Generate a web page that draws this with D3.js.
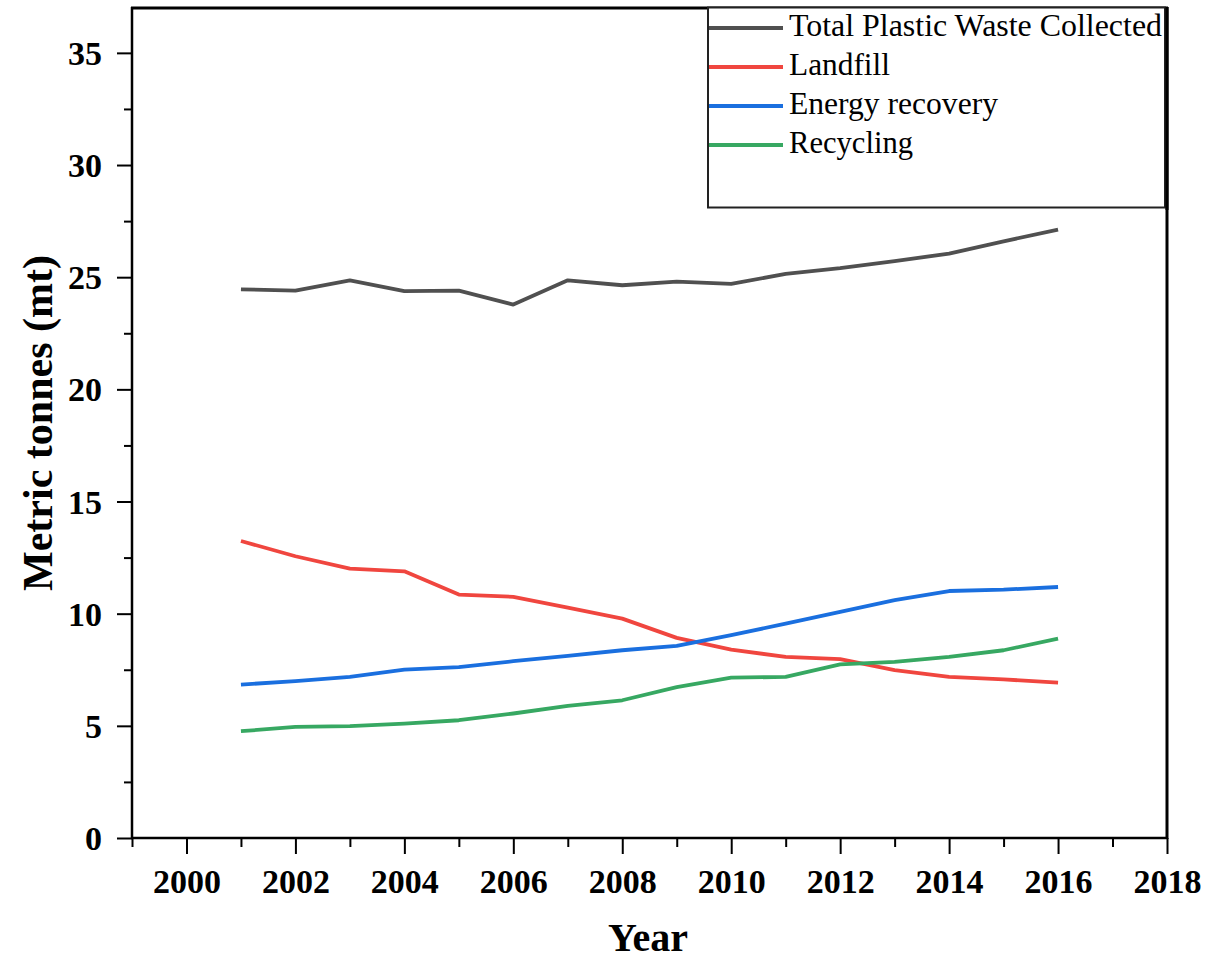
<!DOCTYPE html>
<html>
<head>
<meta charset="utf-8">
<script src="https://cdn.jsdelivr.net/npm/d3@7"></script>
<style>
  html, body { margin: 0; padding: 0; background: #fff; }
  svg { display: block; }
  text { font-family: "Liberation Serif", "Times New Roman", serif; }
</style>
</head>
<body>
<svg id="chart" width="1221" height="963"></svg>
<script>
const years = [2001,2002,2003,2004,2005,2006,2007,2008,2009,2010,2011,2012,2013,2014,2015,2016];
const totalCollected = [24.46,24.4,24.86,24.38,24.4,23.78,24.86,24.64,24.8,24.7,25.15,25.4,25.72,26.05,26.6,27.12];
const landfill = [13.24,12.56,12.01,11.89,10.85,10.75,10.27,9.78,8.92,8.4,8.07,7.97,7.48,7.18,7.07,6.93];
const energyRecovery = [6.84,6.99,7.18,7.51,7.62,7.88,8.12,8.37,8.56,9.04,9.56,10.08,10.6,11.01,11.07,11.19];
const recycling = [4.76,4.95,4.99,5.1,5.25,5.55,5.89,6.14,6.73,7.15,7.18,7.74,7.85,8.07,8.37,8.89];

const seriesNames = ["Total Plastic Waste Collected","Landfill","Energy recovery","Recycling"];
const seriesColors = ["#505050","#f0463f","#1a6fdf","#37a862"];
const seriesValues = [totalCollected, landfill, energyRecovery, recycling];

const xMajorTicks = [2000,2002,2004,2006,2008,2010,2012,2014,2016,2018];
const xMinorTicks = [1999,2001,2003,2005,2007,2009,2011,2013,2015,2017];
const yMajorTicks = [0,5,10,15,20,25,30,35];
const yMinorTicks = [2.5,7.5,12.5,17.5,22.5,27.5,32.5];

const svg = d3.select("#chart");
const L = 132, R = 1167, T = 8, B = 838;
const x = d3.scaleLinear().domain([1999, 2018]).range([L, R]);
const y = d3.scaleLinear().domain([0, 37]).range([B, T]);

const xAxis = svg.append("g").attr("transform", `translate(0,${B})`)
  .call(d3.axisBottom(x).tickValues(xMajorTicks).tickFormat(d3.format("d")).tickSize(16).tickSizeOuter(0));
const xAxisMinor = svg.append("g").attr("transform", `translate(0,${B})`)
  .call(d3.axisBottom(x).tickValues(xMinorTicks).tickFormat("").tickSize(9).tickSizeOuter(0));
const yAxis = svg.append("g").attr("transform", `translate(${L},0)`)
  .call(d3.axisLeft(y).tickValues(yMajorTicks).tickFormat(d3.format("d")).tickSize(15).tickSizeOuter(0));
const yAxisMinor = svg.append("g").attr("transform", `translate(${L},0)`)
  .call(d3.axisLeft(y).tickValues(yMinorTicks).tickFormat("").tickSize(8).tickSizeOuter(0));

[xAxis, xAxisMinor, yAxis, yAxisMinor].forEach(g => {
  g.selectAll(".domain").remove();
  g.selectAll(".tick line").attr("stroke", "#000").attr("stroke-width", 2);
});
xAxis.selectAll(".tick text")
  .attr("font-family", "Liberation Serif, Times New Roman, serif")
  .attr("font-size", 34).attr("font-weight", "bold").attr("fill", "#000")
  .attr("dy", null).attr("y", 55);
yAxis.selectAll(".tick text")
  .attr("font-family", "Liberation Serif, Times New Roman, serif")
  .attr("font-size", 34).attr("font-weight", "bold").attr("fill", "#000")
  .attr("x", -30).attr("dy", "0.34em");

svg.append("line").attr("x1", L).attr("x2", L).attr("y1", T - 1).attr("y2", B + 1).attr("stroke", "#000").attr("stroke-width", 2.5);
svg.append("line").attr("x1", L - 1).attr("x2", R + 1).attr("y1", B).attr("y2", B).attr("stroke", "#000").attr("stroke-width", 2.5);
svg.append("line").attr("x1", L - 1).attr("x2", R + 1).attr("y1", T).attr("y2", T).attr("stroke", "#000").attr("stroke-width", 3);
svg.append("line").attr("x1", R).attr("x2", R).attr("y1", T - 1).attr("y2", B + 1).attr("stroke", "#000").attr("stroke-width", 3);

const line = d3.line().x((d, i) => x(years[i])).y(d => y(d)).curve(d3.curveLinear);
seriesValues.forEach((vals, k) => {
  svg.append("path").datum(vals)
    .attr("d", line)
    .attr("fill", "none")
    .attr("stroke", seriesColors[k])
    .attr("stroke-width", 3.8)
    .attr("stroke-linejoin", "round");
});

const lg = svg.append("g");
lg.append("rect").attr("x", 708).attr("y", 7.5).attr("width", 457).attr("height", 200)
  .attr("fill", "#fff").attr("stroke", "#222").attr("stroke-width", 2);
const legendTextLengths = [373, 101, 209, 124];
seriesNames.forEach((name, k) => {
  const ly = 28 + k * 39;
  lg.append("line").attr("x1", 709).attr("x2", 783).attr("y1", ly).attr("y2", ly)
    .attr("stroke", seriesColors[k]).attr("stroke-width", 4);
  lg.append("text").attr("x", 789).attr("y", ly + 8)
    .attr("font-size", 31).attr("fill", "#000")
    .attr("textLength", legendTextLengths[k]).attr("lengthAdjust", "spacingAndGlyphs")
    .text(name);
});
svg.append("line").attr("x1", R).attr("x2", R).attr("y1", T - 1).attr("y2", 210).attr("stroke", "#000").attr("stroke-width", 3);

svg.append("text").attr("x", 648).attr("y", 951).attr("text-anchor", "middle")
  .attr("font-size", 40).attr("font-weight", "bold").attr("fill", "#000").text("Year");
svg.append("text").attr("transform", "translate(52,423) rotate(-90)").attr("text-anchor", "middle")
  .attr("font-size", 42).attr("font-weight", "bold").attr("fill", "#000").text("Metric tonnes (mt)");
</script>
</body>
</html>
